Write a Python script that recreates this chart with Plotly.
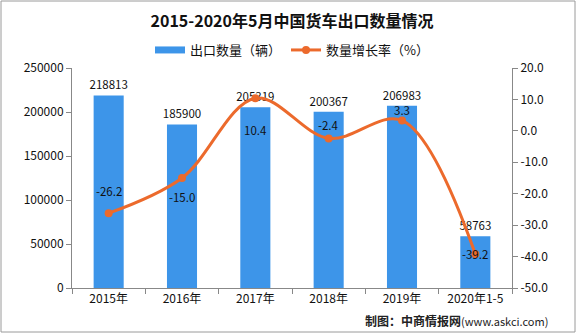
import plotly.graph_objects as go

categories = ["2015年", "2016年", "2017年", "2018年", "2019年", "2020年1-5"]
export_qty = [218813, 185900, 205319, 200367, 206983, 58763]
growth_rate = [-26.2, -15.0, 10.4, -2.4, 3.3, -39.2]
left_ticks = [0, 50000, 100000, 150000, 200000, 250000]
right_ticks = [-50, -40, -30, -20, -10, 0, 10, 20]

# label offsets (pixels) for the growth-rate labels
rate_label_shift = [22, -19, -32, 13, 10, 0]

BAR_COLOR = "#3D95E9"
LINE_COLOR = "#EC6A2C"
FONT = "Noto Sans CJK SC"

L, R, T, B = 72, 64, 68, 45
W, H = 576, 333
pw, ph = W - L - R, H - T - B

fig = go.Figure()
fig.add_trace(go.Bar(
    x=categories, y=export_qty, name="出口数量（辆）", showlegend=False,
    marker=dict(color=BAR_COLOR, line=dict(width=0)),
    width=0.41,
    text=[str(v) for v in export_qty], textposition="outside",
    textfont=dict(size=11.5, color="#111", family=FONT),
    constraintext="none", cliponaxis=False,
))
# legend entry for bars (wide rectangle)
fig.add_trace(go.Scatter(
    x=[None], y=[None], name="出口数量（辆）", mode="lines",
    line=dict(color=BAR_COLOR, width=7),
))
fig.add_trace(go.Scatter(
    x=categories, y=growth_rate, name="数量增长率（%）", yaxis="y2",
    mode="lines+markers",
    line=dict(color=LINE_COLOR, width=3, shape="spline", smoothing=1.0),
    marker=dict(color=LINE_COLOR, size=8),
))

for c, v, s in zip(categories, growth_rate, rate_label_shift):
    fig.add_annotation(x=c, y=v, yref="y2", text=f"{v:.1f}", showarrow=False,
                       yshift=s, yanchor="middle", xanchor="center",
                       font=dict(size=11.5, color="#111", family=FONT))

fig.add_annotation(x=(550 - L) / pw, xref="paper", y=(H - B - 320) / ph, yref="paper",
                   xanchor="right", yanchor="middle", showarrow=False,
                   text="<b>制图：中商情报网</b><span style='font-size:11px'>(www.askci.com)</span>",
                   font=dict(size=12, color="#222", family=FONT))

fig.add_shape(type="rect", xref="paper", yref="paper",
              x0=-(L - 1) / pw, x1=1 + (R - 1) / pw,
              y0=-(B - 1) / ph, y1=1 + (T - 1) / ph,
              line=dict(color="#9a9a9a", width=1), fillcolor="rgba(0,0,0,0)")

fig.update_layout(
    width=W, height=H,
    margin=dict(l=L, r=R, t=T, b=B),
    paper_bgcolor="white", plot_bgcolor="white",
    font=dict(family=FONT, size=12, color="#111"),
    title=dict(text="<b>2015-2020年5月中国货车出口数量情况</b>", x=292 / W, xanchor="center",
               y=1 - 21 / H, yanchor="middle", font=dict(size=16, color="#111", family=FONT)),
    legend=dict(orientation="h", x=0.5, xanchor="center", y=(H - B - 50) / ph,
                yanchor="middle", font=dict(size=13, family=FONT),
                bgcolor="rgba(0,0,0,0)", traceorder="normal"),
    showlegend=True,
    xaxis=dict(showgrid=False, showline=True, linecolor="#888", linewidth=1,
               ticks="outside", tickson="boundaries", ticklen=5, tickcolor="#888",
               tickfont=dict(size=12), range=[-0.5, 5.5]),
    yaxis=dict(range=[0, 250000], tickvals=left_ticks, ticktext=[str(t) for t in left_ticks],
               showgrid=False, showline=True,
               linecolor="#888", linewidth=1, ticks="outside", ticklen=5, tickcolor="#888",
               tickfont=dict(size=12), zeroline=False),
    yaxis2=dict(range=[-50, 20], tickvals=right_ticks, ticktext=[f"{t:.1f}" for t in right_ticks],
                overlaying="y", side="right", showgrid=False, showline=True,
                linecolor="#888", linewidth=1, ticks="outside", ticklen=5, tickcolor="#888",
                tickfont=dict(size=12), zeroline=False),
)

fig.write_html("out.html")
